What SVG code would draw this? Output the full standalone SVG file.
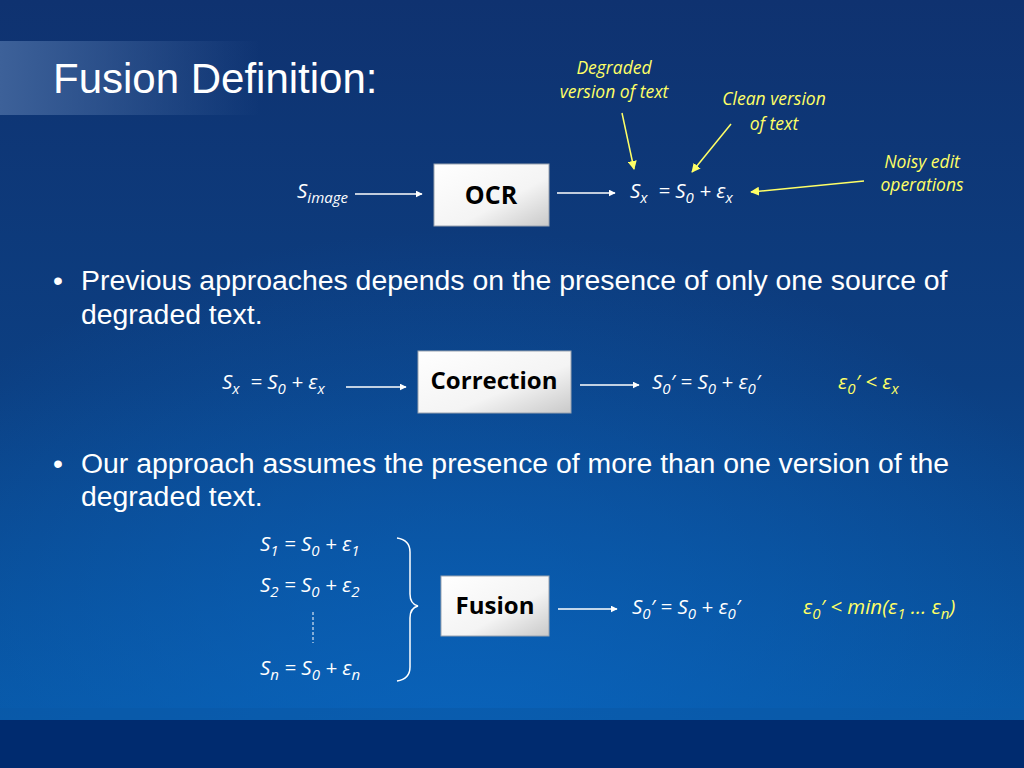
<svg xmlns="http://www.w3.org/2000/svg" width="1024" height="768" viewBox="0 0 1024 768">
<defs>
<linearGradient id="bg" x1="0" y1="0" x2="0" y2="1">
<stop offset="0" stop-color="#0f3270"/>
<stop offset="0.5" stop-color="#0c3f82"/>
<stop offset="1" stop-color="#075aa9"/>
</linearGradient>
<radialGradient id="glow" cx="0.45" cy="1" r="0.7" fx="0.45" fy="1">
<stop offset="0" stop-color="#0a66c0" stop-opacity="0.8"/>
<stop offset="1" stop-color="#0a66c0" stop-opacity="0"/>
</radialGradient>
<linearGradient id="title" x1="0" y1="0" x2="1" y2="0">
<stop offset="0" stop-color="#3d6199"/>
<stop offset="1" stop-color="#3d6199" stop-opacity="0"/>
</linearGradient>
<linearGradient id="box" x1="0" y1="0" x2="1" y2="1">
<stop offset="0" stop-color="#ffffff"/>
<stop offset="0.6" stop-color="#f4f4f4"/>
<stop offset="1" stop-color="#c9c9c9"/>
</linearGradient>
<marker id="aw" viewBox="0 0 10 10" refX="9" refY="5" markerWidth="7" markerHeight="7" markerUnits="userSpaceOnUse" orient="auto">
<path d="M0,0 L10,5 L0,10 z" fill="#ffffff"/>
</marker>
<marker id="ay" viewBox="0 0 10 10" refX="9" refY="5" markerWidth="9" markerHeight="9" markerUnits="userSpaceOnUse" orient="auto">
<path d="M0,0 L10,5 L0,10 z" fill="#ffff66"/>
</marker>
<style>
.t{font-family:"Liberation Sans",Arial,sans-serif;fill:#fff}
.m{font-family:"Open Sans","Liberation Sans",sans-serif;font-style:italic;font-size:20.5px;fill:#fff;white-space:pre}
.s{font-size:15px}
.y{fill:#ffff66}
.lab{font-family:"Open Sans","Liberation Sans",sans-serif;font-style:italic;font-size:17.5px;fill:#ffff66;text-anchor:middle}
.bx{fill:url(#box);stroke:#9aa3b0;stroke-width:1}
.bt{font-family:"Open Sans","Liberation Sans",sans-serif;font-weight:bold;fill:#000;text-anchor:middle}
.w{stroke:#fff;stroke-width:1.5;fill:none}
.yl{stroke:#ffff66;stroke-width:1.5;fill:none}
.b{font-family:"Liberation Sans",Arial,sans-serif;font-size:28.4px;fill:#fff}
</style>
</defs>
<rect width="1024" height="768" fill="url(#bg)"/>
<rect width="1024" height="768" fill="url(#glow)"/>
<rect x="0" y="708" width="1024" height="12" fill="#0a58a6" opacity="0.6"/>
<rect x="0" y="720" width="1024" height="48" fill="#002b6f"/>
<rect x="0" y="41" width="260" height="74" fill="url(#title)"/>
<text class="t" x="53" y="93" font-size="42">Fusion Definition:</text>

<g id="labels">
<text class="lab" x="614" y="74">Degraded</text>
<text class="lab" x="614" y="98">version of text</text>
<text class="lab" x="774" y="105">Clean version</text>
<text class="lab" x="774" y="130">of text</text>
<text class="lab" x="922" y="168">Noisy edit</text>
<text class="lab" x="922" y="191">operations</text>
</g>

<g id="ocr-row">
<text class="m" x="297" y="198">S<tspan class="s" dy="5">image</tspan></text>
<g id="ocr"><rect class="bx" x="434" y="164" width="115" height="62"/><text class="bt" x="491" y="204" font-size="25">OCR</text></g>
<text class="m" x="630" y="198">S<tspan class="s" dy="5">x</tspan><tspan dy="-5">  = S</tspan><tspan class="s" dy="5">0</tspan><tspan dy="-5"> + ε</tspan><tspan class="s" dy="5">x</tspan></text>
</g>

<text class="b" x="53" y="290">•</text>
<text class="b" x="81" y="290">Previous approaches depends on the presence of only one source of</text>
<text class="b" x="81" y="324">degraded text.</text>

<g id="correction-row">
<text class="m" x="222" y="389">S<tspan class="s" dy="5">x</tspan><tspan dy="-5">  = S</tspan><tspan class="s" dy="5">0</tspan><tspan dy="-5"> + ε</tspan><tspan class="s" dy="5">x</tspan></text>
<g id="correction"><rect class="bx" x="418" y="351" width="153" height="62"/><text class="bt" x="494" y="389" font-size="24">Correction</text></g>
<text class="m" x="652" y="389">S<tspan class="s" dy="5">0</tspan><tspan dy="-5">′ = S</tspan><tspan class="s" dy="5">0</tspan><tspan dy="-5"> + ε</tspan><tspan class="s" dy="5">0</tspan><tspan dy="-5">′</tspan></text>
<text class="m y" x="838" y="389">ε<tspan class="s" dy="5">0</tspan><tspan dy="-5">′ &lt; ε</tspan><tspan class="s" dy="5">x</tspan></text>
</g>

<text class="b" x="53" y="473">•</text>
<text class="b" x="81" y="473">Our approach assumes the presence of more than one version of the</text>
<text class="b" x="81" y="506">degraded text.</text>

<g id="fusion-row">
<text class="m" x="260" y="551">S<tspan class="s" dy="5">1</tspan><tspan dy="-5"> = S</tspan><tspan class="s" dy="5">0</tspan><tspan dy="-5"> + ε</tspan><tspan class="s" dy="5">1</tspan></text>
<text class="m" x="260" y="592">S<tspan class="s" dy="5">2</tspan><tspan dy="-5"> = S</tspan><tspan class="s" dy="5">0</tspan><tspan dy="-5"> + ε</tspan><tspan class="s" dy="5">2</tspan></text>
<line x1="313" y1="612" x2="313" y2="643" stroke="#fff" stroke-width="1" stroke-dasharray="3,2"/>
<text class="m" x="260" y="675">S<tspan class="s" dy="5">n</tspan><tspan dy="-5"> = S</tspan><tspan class="s" dy="5">0</tspan><tspan dy="-5"> + ε</tspan><tspan class="s" dy="5">n</tspan></text>
<path class="w" d="M397,538 Q410,540 410,552 L410,594 Q410,604 418,606 Q410,608 410,618 L410,667 Q410,679 397,681"/>
<g id="fusion"><rect class="bx" x="441" y="576" width="108" height="60"/><text class="bt" x="495" y="614" font-size="24">Fusion</text></g>
<text class="m" x="632" y="614">S<tspan class="s" dy="5">0</tspan><tspan dy="-5">′ = S</tspan><tspan class="s" dy="5">0</tspan><tspan dy="-5"> + ε</tspan><tspan class="s" dy="5">0</tspan><tspan dy="-5">′</tspan></text>
<text class="m y" x="803" y="614">ε<tspan class="s" dy="5">0</tspan><tspan dy="-5">′ &lt; min(ε</tspan><tspan class="s" dy="5">1</tspan><tspan dy="-5"> … ε</tspan><tspan class="s" dy="5">n</tspan><tspan dy="-5">)</tspan></text>
</g>

<g id="connectors">
<line class="w" x1="355" y1="194" x2="422" y2="194" marker-end="url(#aw)"/>
<line class="w" x1="557" y1="193" x2="615" y2="193" marker-end="url(#aw)"/>
<line class="w" x1="346" y1="387" x2="406" y2="387" marker-end="url(#aw)"/>
<line class="w" x1="580" y1="385" x2="639" y2="385" marker-end="url(#aw)"/>
<line class="w" x1="558" y1="609" x2="617" y2="609" marker-end="url(#aw)"/>
<line class="yl" x1="622" y1="113" x2="634" y2="169" marker-end="url(#ay)"/>
<line class="yl" x1="731" y1="124" x2="692" y2="172" marker-end="url(#ay)"/>
<line class="yl" x1="864" y1="181" x2="751" y2="192" marker-end="url(#ay)"/>
</g>
</svg>
